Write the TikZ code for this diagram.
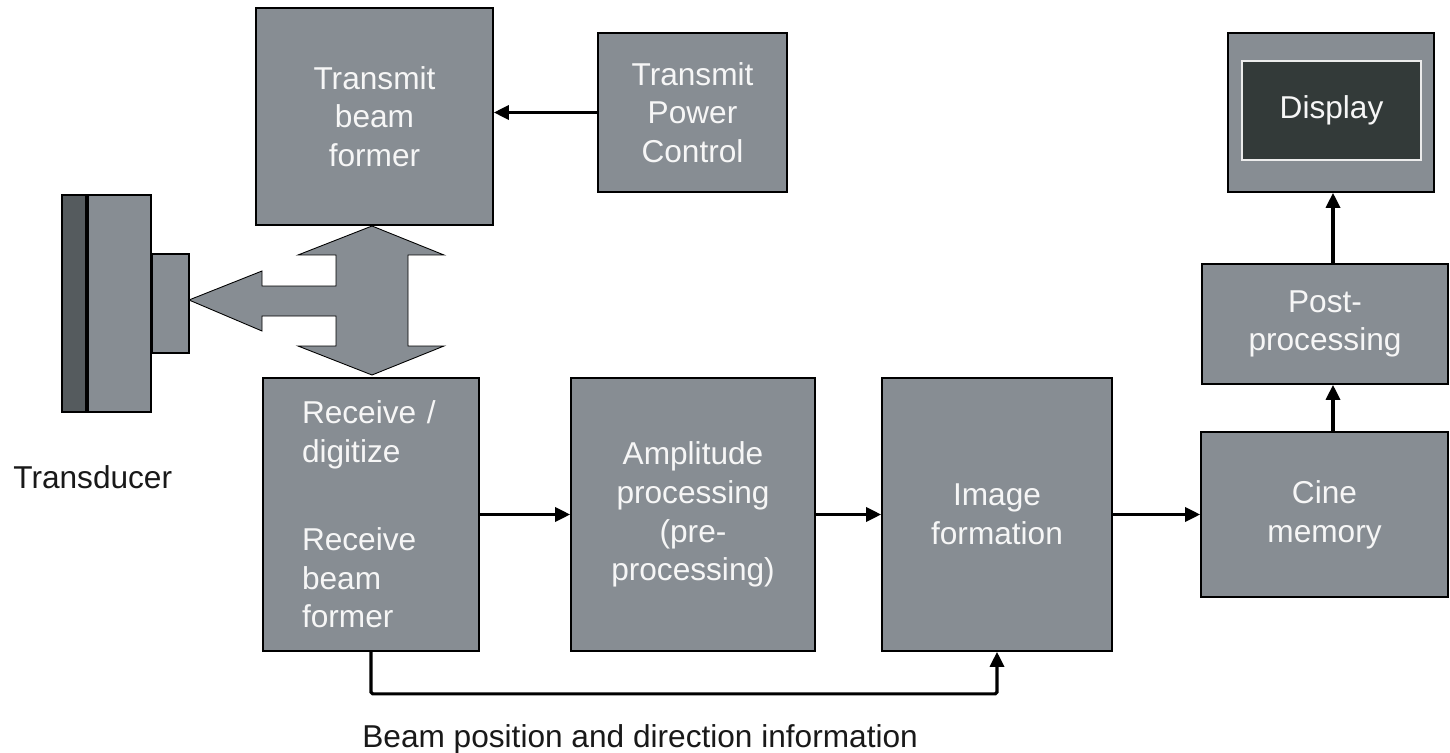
\documentclass[tikz,border=0pt]{standalone}
\usepackage{fontspec}
\setmainfont{Liberation Sans}
\usetikzlibrary{arrows.meta, calc}
\definecolor{boxgray}{RGB}{135,141,147}
\definecolor{stripgray}{RGB}{85,91,94}
\definecolor{screendark}{RGB}{51,58,57}
\definecolor{boxtext}{RGB}{246,246,246}
\tikzset{
    blockbox/.style={draw=black, line width=1pt, fill=boxgray, text=boxtext, align=center,
        inner sep=0pt, font=\fontsize{18}{22}\selectfont},
    flow/.style={line width=1.8pt, -{Triangle[length=8.5pt, width=8pt]}},
    plain/.style={text=black!90, font=\fontsize{18}{22}\selectfont, inner sep=0pt}
}
\begin{document}
\begin{tikzpicture}[x=0.02cm, y=-0.02cm]
    \useasboundingbox (0,0) rectangle (1450,753);
    % top row
    \node[blockbox, minimum width=4.74cm, minimum height=4.34cm] (tbf) at (374.5,116.5) {Transmit\\beam\\former};
    \node[blockbox, minimum width=3.78cm, minimum height=3.18cm] (tpc) at (692.5,112.5) {Transmit\\Power\\Control};
    \node[blockbox, minimum width=4.12cm, minimum height=3.18cm] (disp) at (1331,112.5) {};
    \node[blockbox, fill=screendark, draw=white!85!gray, minimum width=3.58cm, minimum height=1.98cm] (screen) at (1331.5,110.5) {Display};
    % bottom row
    \node[blockbox, minimum width=4.32cm, minimum height=5.46cm, text width=2.76cm, align=left] (rx) at (371,514.5)
        {Receive /\\digitize\\[28pt]Receive\\beam\\former};
    \node[blockbox, minimum width=4.88cm, minimum height=5.46cm] (amp) at (693,514.5) {Amplitude\\processing\\(pre-\\processing)};
    \node[blockbox, minimum width=4.60cm, minimum height=5.46cm] (ifm) at (997,514.5) {Image\\formation};
    \node[blockbox, minimum width=4.94cm, minimum height=3.30cm] (cine) at (1324.5,514.5) {Cine\\memory};
    \node[blockbox, minimum width=4.92cm, minimum height=2.40cm] (post) at (1325,324) {Post-\\processing};
    % transducer
    \filldraw[fill=stripgray, draw=black, line width=0.8pt] (62,195) rectangle (87,412);
    \filldraw[fill=boxgray, draw=black, line width=0.8pt] (87,195) rectangle (151,412);
    \draw[line width=2.2pt] (87,195) -- (87,412);
    \filldraw[fill=boxgray, draw=black, line width=0.8pt] (152,254) rectangle (189,353);
    \node[plain, anchor=base west] (tdlabel) at (13,488) {Transducer};
    % transmit / receive / transducer arrow
    \filldraw[fill=boxgray, draw=black, line width=0.5pt]
        (372,226) -- (444,255) -- (408,255) -- (408,346) -- (444,346) -- (372,375)
        -- (298,346) -- (336,346) -- (336,316) -- (262,316) -- (262,331) -- (189,300)
        -- (262,271) -- (262,286) -- (336,286) -- (336,255) -- (298,255) -- cycle;
    % signal flow
    \draw[flow] (tpc.west) -- (tpc.west -| tbf.east);
    \draw[flow] (rx.east) -- (amp.west);
    \draw[flow] (amp.east) -- (ifm.west);
    \draw[flow] (ifm.east) -- (cine.west);
    \draw[flow] (cine.north -| 1333,0) -- (post.south -| 1333,0);
    \draw[flow] (post.north -| 1333,0) -- (disp.south -| 1333,0);
    \draw[flow, rounded corners=1pt] (rx.south) -- ++(0,42) -| (ifm.south);
    \node[plain, anchor=base west] (beaminfo) at (362,747) {Beam position and direction information};
\end{tikzpicture}
\end{document}
